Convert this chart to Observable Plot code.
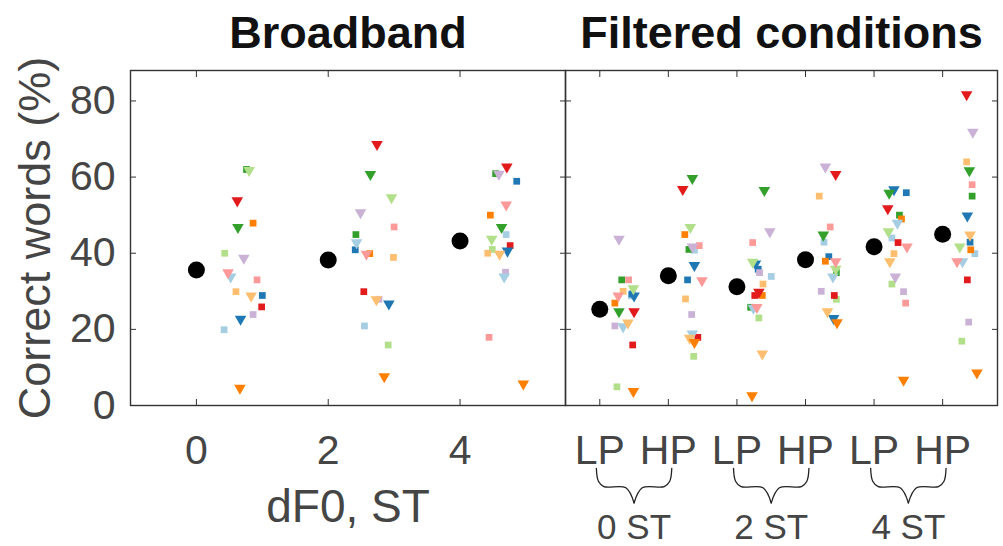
<!DOCTYPE html>
<html>
<head>
<meta charset="utf-8">
<script src="https://cdn.jsdelivr.net/npm/d3@7"></script>
<script src="https://cdn.jsdelivr.net/npm/@observablehq/plot@0.6"></script>
<style>
  html, body { margin: 0; padding: 0; background: #fff; }
  #chart { position: relative; width: 1003px; height: 546px; overflow: hidden; }
  #chart svg { position: absolute; top: 0; overflow: visible; background: transparent; }
</style>
</head>
<body>
<div id="chart"></div>
<script>
// ---------- data ----------
// subject colours (ColorBrewer "Paired"), order used in every row below
const subjectColors = ["#a6cee3","#1f78b4","#b2df8a","#33a02c","#fb9a99","#e31a1c","#fdbf6f","#ff7f00","#cab2d6"];

const yTicks = [0, 20, 40, 60, 80];
const bbTicks = [0, 2, 4];
const filtTicks = [1, 2, 3, 4, 5, 6];
const filtTickLabels = ["LP", "HP", "LP", "HP", "LP", "HP"];
const groupCenters = [1.5, 3.5, 5.5];
const groupLabels = ["0 ST", "2 ST", "4 ST"];

// Broadband: dF0 = 0, 2, 4 ST ; each row = 9 subjects [jittered x, % correct]
const bbSquares = [
  [[0.42,19.9],[1.00,28.9],[0.43,40.0],[0.76,62.0],[0.92,33.0],[0.99,25.9],[0.60,29.9],[0.86,47.9],[0.86,23.9]],
  [[2.55,20.9],[2.41,40.9],[2.91,15.9],[2.42,44.9],[3.00,46.9],[2.54,29.9],[2.99,38.9],[2.63,39.9],[2.77,27.9]],
  [[4.70,44.9],[4.86,58.9],[4.49,41.0],[4.54,60.9],[4.44,17.9],[4.76,42.0],[4.42,40.0],[4.46,50.0],[4.69,35.0]]
];
const bbTriangles = [
  [[0.52,33.8],[0.67,22.7],[0.80,61.8],[0.63,46.8],[0.48,34.9],[0.62,53.8],[0.83,28.8],[0.66,4.6],[0.72,38.7]],
  [[2.43,42.8],[2.92,26.7],[2.96,54.6],[2.64,60.7],[2.58,39.8],[2.74,68.6],[2.73,27.8],[2.85,7.6],[2.49,50.7]],
  [[4.67,33.8],[4.72,40.6],[4.48,43.7],[4.63,46.8],[4.70,52.7],[4.71,62.7],[4.60,39.8],[4.96,5.7],[4.59,60.8]]
];
const bbMeans = [35.6, 38.2, 43.2];

// Filtered: LP/HP at 0, 2, 4 ST (positions 1..6)
const filtSquares = [
  [[1.46,28.8],[1.47,29.3],[1.25,4.9],[1.32,33.0],[1.42,33.0],[1.48,15.9],[1.34,30.0],[1.22,26.9],[1.22,20.9]],
  [[2.38,40.8],[2.28,33.0],[2.37,12.9],[2.30,41.0],[2.45,42.0],[2.43,17.9],[2.25,28.0],[2.24,44.9],[2.34,23.9]],
  [[3.50,33.9],[3.31,35.8],[3.32,23.0],[3.20,25.8],[3.23,42.8],[3.26,28.9],[3.38,31.9],[3.37,28.9],[3.33,34.9]],
  [[4.27,42.9],[4.34,39.1],[4.45,27.9],[4.45,34.9],[4.36,46.9],[4.42,28.9],[4.20,55.0],[4.29,37.9],[4.23,30.0]],
  [[5.26,44.0],[5.47,55.9],[5.26,31.9],[5.37,50.0],[5.46,26.9],[5.35,42.8],[5.29,39.9],[5.40,49.0],[5.43,29.9]],
  [[6.47,39.9],[6.40,42.9],[6.28,16.9],[6.43,55.0],[6.43,58.0],[6.36,33.0],[6.35,64.0],[6.41,40.9],[6.38,21.9]]
];
const filtTriangles = [
  [[1.34,20.7],[1.50,28.8],[1.49,30.7],[1.28,24.7],[1.27,28.8],[1.50,24.7],[1.41,21.7],[1.49,3.7],[1.28,43.7]],
  [[2.35,18.8],[2.38,36.8],[2.32,46.8],[2.35,59.7],[2.49,32.8],[2.21,56.8],[2.31,17.7],[2.38,16.6],[2.35,41.7]],
  [[3.24,25.6],[3.27,37.2],[3.23,37.7],[3.40,56.5],[3.29,25.8],[3.32,29.8],[3.37,13.6],[3.22,2.6],[3.48,45.7]],
  [[4.40,33.8],[4.41,22.9],[4.44,35.8],[4.26,44.8],[4.44,37.8],[4.44,60.7],[4.32,24.7],[4.46,21.8],[4.29,62.7]],
  [[5.34,47.9],[5.29,56.7],[5.21,45.7],[5.22,55.8],[5.48,41.7],[5.20,51.7],[5.23,37.8],[5.43,6.7],[5.31,33.8]],
  [[6.29,37.8],[6.36,49.8],[6.25,41.7],[6.39,61.7],[6.21,37.8],[6.35,81.7],[6.40,44.8],[6.50,8.6],[6.44,71.8]]
];
const filtMeans = [25.3, 34.1, 31.2, 38.3, 41.7, 45.0];

// brace outline (half): [x offset from group centre, y in axis units below 0]
const braceHalf = [[0.55,-16.5],[0.52,-19.9],[0.44,-21.3],[0.12,-21.6],[0,-25.6]];

// ---------- helpers ----------
const rows = (groups) => groups.flatMap((g, gi) => g.map(([x, y], si) => ({x, y, color: subjectColors[si]})));
const font = "'Liberation Sans', Arial, Helvetica, sans-serif";
const textColor = "#454545";
const frameColor = "#333";
const H = 546, MT = 70, MB = 141;
const yDomain = [0, 88];

function frameTicks(ticks, yTickVals) {
  const blank = () => "";
  return [
    Plot.axisY(yTickVals, {anchor: "left", tickSize: 6, dx: 6, tickFormat: blank, label: null, stroke: frameColor}),
    Plot.axisY(yTickVals, {anchor: "right", tickSize: 6, dx: -6, tickFormat: blank, label: null, stroke: frameColor}),
    Plot.axisX(ticks, {anchor: "bottom", tickSize: 6, dy: -6, tickFormat: blank, label: null, stroke: frameColor}),
    Plot.axisX(ticks, {anchor: "top", tickSize: 6, dy: 6, tickFormat: blank, label: null, stroke: frameColor}),
    Plot.frame({stroke: frameColor, strokeWidth: 1.4})
  ];
}

function pointMarks(sq, tri, meanData) {
  return [
    Plot.dot(rows(sq), {x: "x", y: "y", fill: "color", symbol: "square", r: 3.8}),
    Plot.dot(rows(tri), {x: "x", y: "y", fill: "color", symbol: "triangle", rotate: 180, r: 4.3}),
    Plot.dot(meanData, {x: "x", y: "y", fill: "black", r: 8.5})
  ];
}

// ---------- left panel: Broadband ----------
const left = Plot.plot({
  width: 567, height: H,
  marginLeft: 130, marginRight: 2, marginTop: MT, marginBottom: MB,
  style: {fontFamily: font, color: textColor, background: "transparent", overflow: "visible"},
  x: {domain: [-1, 5.6]},
  y: {domain: yDomain},
  color: {type: "identity"},
  marks: [
    ...frameTicks(bbTicks, yTicks),
    Plot.axisY(yTicks, {anchor: "left", tickSize: 0, tickPadding: 15, fontSize: 41, label: null}),
    Plot.axisX(bbTicks, {anchor: "bottom", tickSize: 0, tickPadding: 29, fontSize: 41, label: null}),
    ...pointMarks(bbSquares, bbTriangles, bbMeans.map((y, i) => ({x: bbTicks[i], y}))),
    Plot.text(["Broadband"], {frameAnchor: "top", textAnchor: "middle", lineAnchor: "middle", dy: -37, fontSize: 45, fontWeight: "bold", fill: "#111"}),
    Plot.text(["Correct words (%)"], {frameAnchor: "left", textAnchor: "middle", lineAnchor: "middle", rotate: -90, dx: -95, fontSize: 45, fill: textColor}),
    Plot.text(["dF0, ST"], {frameAnchor: "bottom", textAnchor: "middle", lineAnchor: "middle", dy: 102, fontSize: 46, fill: textColor})
  ]
});
left.style.left = "0px";

// ---------- right panel: Filtered conditions ----------
const braces = groupCenters.flatMap((c, gi) => [
  ...braceHalf.map(([dx, y]) => ({x: c - dx, y, z: gi + "L"})),
  ...braceHalf.map(([dx, y]) => ({x: c + dx, y, z: gi + "R"}))
]);

const right = Plot.plot({
  width: 440, height: H,
  marginLeft: 2, marginRight: 6, marginTop: MT, marginBottom: MB,
  style: {fontFamily: font, color: textColor, background: "transparent", overflow: "visible"},
  x: {domain: [0.5, 6.8]},
  y: {domain: yDomain},
  color: {type: "identity"},
  marks: [
    ...frameTicks(filtTicks, yTicks),
    Plot.axisX(filtTicks, {anchor: "bottom", tickSize: 0, tickPadding: 29, fontSize: 41, label: null,
      tickFormat: (d) => filtTickLabels[d - 1]}),
    ...pointMarks(filtSquares, filtTriangles, filtMeans.map((y, i) => ({x: filtTicks[i], y}))),
    Plot.line(braces, {x: "x", y: "y", z: "z", curve: "catmull-rom", stroke: "#222", strokeWidth: 1.3, clip: false}),
    Plot.text(groupLabels.map((t, i) => ({t, x: groupCenters[i]})), {x: "x", text: "t", frameAnchor: "bottom", textAnchor: "middle", lineAnchor: "middle", dy: 122, fontSize: 35, fill: textColor}),
    Plot.text(["Filtered conditions"], {frameAnchor: "top", textAnchor: "middle", lineAnchor: "middle", dy: -37, fontSize: 45, fontWeight: "bold", fill: "#111"})
  ]
});
right.style.left = "563px";

const chart = document.getElementById("chart");
chart.appendChild(left);
chart.appendChild(right);
</script>
</body>
</html>
